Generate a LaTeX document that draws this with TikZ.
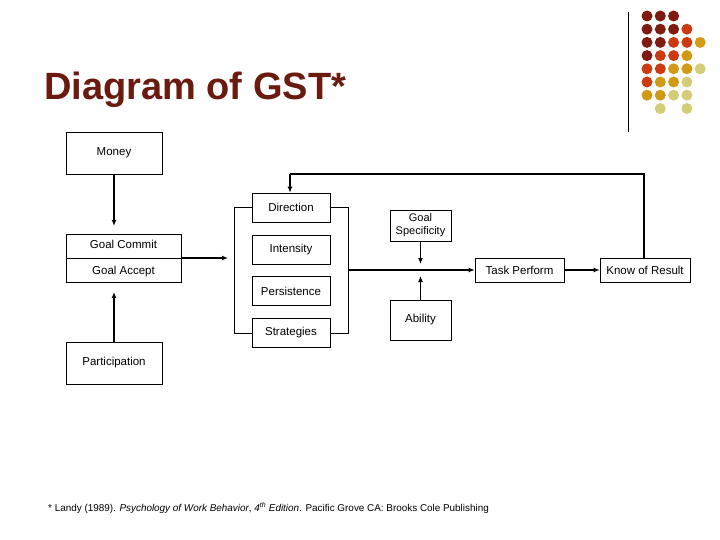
\documentclass[tikz,border=0pt]{standalone}
\usepackage{fontspec}
\setmainfont{Liberation Sans}
\usetikzlibrary{arrows.meta}
\begin{document}
\begin{tikzpicture}[x=1pt,y=-1pt,
 bx/.style={draw,semithick,fill=white,inner sep=0pt,font=\fontsize{11.5}{13}\selectfont,align=center},
 ar/.style={line width=1.8pt,-{Latex[length=6pt,width=5pt]}},
 ln/.style={line width=1.8pt}]
\useasboundingbox (0,0) rectangle (720,540);
\fill[white] (0,0) rectangle (720,540);
\definecolor{tred}{HTML}{6B1A10}
\node[anchor=base west,font=\fontsize{38}{42}\selectfont\bfseries,text=tred,inner sep=0pt] (title) at (44,100) {Diagram of GST*};
\draw[thick] (628,12) -- (628,132);
\definecolor{cA}{HTML}{7F1A0E}\definecolor{cB}{HTML}{CC3B10}
\definecolor{cC}{HTML}{D19A14}\definecolor{cD}{HTML}{D3CD7A}
\foreach \r/\row in {0/{A,A,A},1/{A,A,A,B},2/{A,A,B,B,C},3/{A,B,B,C},4/{B,B,C,C,D},5/{B,C,C,D},6/{C,C,D,D}}{
  \foreach \c [count=\i from 0] in \row {\fill[c\c] (647+13.3*\i,16+13.2*\r) circle (5.5);}}
\fill[cD] (660.3,108.5) circle (5.5);\fill[cD] (686.9,108.5) circle (5.5);
% boxes
\node[bx,minimum width=96,minimum height=42] (money) at (114,153) {Money};
\node[bx,minimum width=115,minimum height=48] (goal) at (123.5,258) {};
\draw[semithick] (goal.west) -- (goal.east);
\node[font=\fontsize{11.5}{13}\selectfont] (gc) at (123.5,244) {Goal Commit};
\node[font=\fontsize{11.5}{13}\selectfont] (ga) at (123.5,272) {Goal Accept};
\node[bx,minimum width=96,minimum height=42] (part) at (114,363) {Participation};
\node[bx,minimum width=78,minimum height=29] (dir) at (291,207.5) {Direction};
\node[bx,minimum width=78,minimum height=29] (int) at (291,249.5) {Intensity};
\node[bx,minimum width=78,minimum height=29] (per) at (291,291) {Persistence};
\node[bx,minimum width=78,minimum height=29] (str) at (291,333) {Strategies};
\node[bx,minimum width=61,minimum height=31,font=\fontsize{11}{13}\selectfont] (spec) at (420.5,225.5) {Goal\\Specificity};
\node[bx,minimum width=61,minimum height=40] (abil) at (420.5,320) {Ability};
\node[bx,minimum width=89,minimum height=24] (task) at (519.5,270) {Task Perform};
\node[bx,minimum width=90,minimum height=24] (kor) at (645,270) {Know of Result};
% brackets
\draw[semithick] (dir.west) -- (234,207.5) -- (234,333) -- (str.west);
\draw[semithick] (dir.east) -- (348,207.5) -- (348,333) -- (str.east);
\coordinate (rb) at (348,270);
\coordinate (cg) at (228,258);
\coordinate (sj) at (420.5,264);
\coordinate (aj) at (420.5,276);
\coordinate (fb1) at (644,174);
\coordinate (fb2) at (290,174);
\coordinate (m1) at (114,174);
\coordinate (m2) at (114,226);
\coordinate (p1) at (114,342);
\coordinate (p2) at (114,292);
\draw[ar] (m1) -- (m2);
\draw[ar] (p1) -- (p2);
\draw[ar] (goal.east) -- (cg);
\draw[ar] (rb) -- (task.west);
\draw[ar] (spec) -- (sj);
\draw[ar] (abil) -- (aj);
\draw[ar] (task) -- (kor);
\draw[ln] (kor.north -| fb1) -- (fb1) -- (fb2);
\draw[ar] (fb2) -- (dir.north -| fb2);
\node[anchor=base west,font=\fontsize{9.9}{11}\selectfont,inner sep=0pt] (fn) at (48,511) {* Landy (1989). \textit{Psychology of Work Behavior}, \textit{4\textsuperscript{th} Edition}. Pacific Grove CA: Brooks Cole Publishing};
\end{tikzpicture}
\end{document}
